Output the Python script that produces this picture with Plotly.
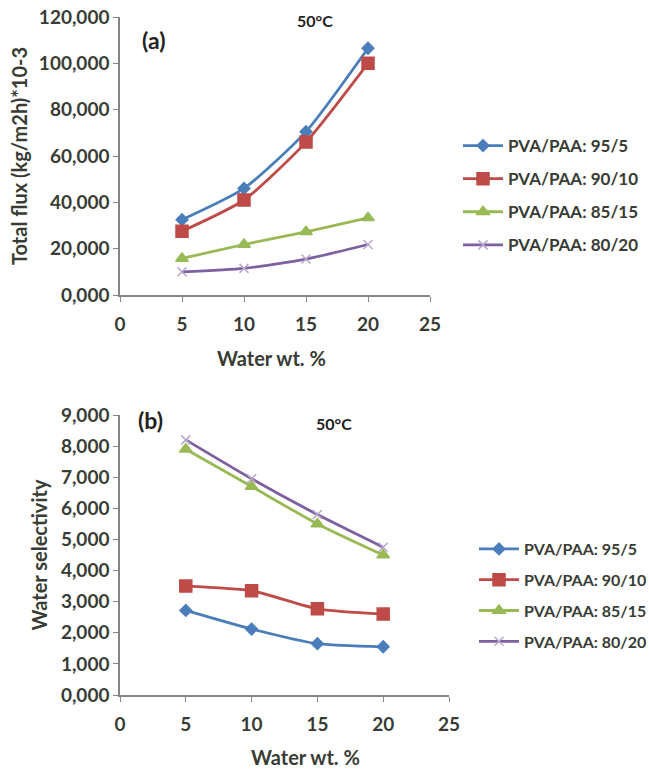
import plotly.graph_objects as go

water = [5, 10, 15, 20]
series_names = ["PVA/PAA: 95/5", "PVA/PAA: 90/10", "PVA/PAA: 85/15", "PVA/PAA: 80/20"]
flux = [
    [32500, 46000, 70500, 106500],
    [27500, 41000, 66000, 100000],
    [15800, 21800, 27300, 33300],
    [10000, 11500, 15500, 21800],
]
selectivity = [
    [2720, 2120, 1650, 1550],
    [3500, 3350, 2770, 2600],
    [7900, 6700, 5500, 4500],
    [8200, 6950, 5800, 4750],
]
colors = ["#4A7EBB", "#BE4B48", "#98B954", "#7D60A0"]
marker_colors = ["#4A7EBB", "#BE4B48", "#98B954", "#B8A8CC"]
symbols = ["diamond", "square", "triangle-up", "x-thin"]
msizes = [9, 12, 11, 9]

flux_ticks = [0, 20000, 40000, 60000, 80000, 100000, 120000]
sel_ticks = [0, 1000, 2000, 3000, 4000, 5000, 6000, 7000, 8000, 9000]
x_ticks = [0, 5, 10, 15, 20, 25]


def fmt(v):
    return f"{v // 1000},000"


fig = go.Figure()
for i, name in enumerate(series_names):
    fig.add_trace(go.Scatter(
        x=water, y=flux[i], name=name, mode="lines+markers",
        line=dict(color=colors[i], width=2.8, shape="spline", smoothing=0.6),
        marker=dict(symbol=symbols[i], size=msizes[i], color=marker_colors[i],
                    line=dict(color=marker_colors[i], width=1.5)),
        xaxis="x", yaxis="y", legend="legend", legendgroup=f"a{i}",
    ))
for i, name in enumerate(series_names):
    fig.add_trace(go.Scatter(
        x=water, y=selectivity[i], name=name, mode="lines+markers",
        line=dict(color=colors[i], width=2.8, shape="spline", smoothing=0.6),
        marker=dict(symbol=symbols[i], size=msizes[i], color=marker_colors[i],
                    line=dict(color=marker_colors[i], width=1.5)),
        xaxis="x2", yaxis="y2", legend="legend2", legendgroup=f"b{i}",
    ))

font_family = "Lato, 'Open Sans', sans-serif"
txt = "#383c34"
tick_font = dict(family=font_family, size=19, color=txt, weight="bold")
title_font = dict(family=font_family, size=20, color=txt, weight="bold")
legend_font = dict(family=font_family, size=17, color=txt, weight="bold")
legend2_font = dict(family=font_family, size=16, color=txt, weight="bold")
axis_common = dict(showgrid=False, zeroline=False, showline=True, linecolor="#858585",
                   linewidth=1.5, ticks="outside", ticklen=5, tickcolor="#858585",
                   tickfont=tick_font, title_font=title_font, automargin=False)

W, H = 649, 769
label_font = dict(family=font_family, size=23, color="#222", weight="bold")
temp_font = dict(family=font_family, size=16, color="#222", weight="bold")


def note(text, px, py, font):
    return dict(text=text, x=px / W, y=1 - py / H, xref="paper", yref="paper",
                xanchor="center", yanchor="middle", showarrow=False, font=font)


fig.update_layout(
    width=W, height=H, margin=dict(l=0, r=0, t=0, b=0, autoexpand=False),
    paper_bgcolor="white", plot_bgcolor="white",
    xaxis=dict(domain=[120 / W, 430 / W], range=[0, 25], tickvals=x_ticks, anchor="y",
               ticklabelstandoff=6, **axis_common),
    yaxis=dict(domain=[1 - 295 / H, 1 - 17 / H], range=[0, 120000], anchor="x",
               tickvals=flux_ticks, ticktext=[fmt(v) for v in flux_ticks],
               title=dict(text="Total flux (kg/m2h)*10-3", standoff=6), **axis_common),
    xaxis2=dict(domain=[120 / W, 449 / W], range=[0, 25], tickvals=x_ticks, anchor="y2",
                ticklabelstandoff=6, **axis_common),
    yaxis2=dict(domain=[1 - 695 / H, 1 - 415 / H], range=[0, 9000], anchor="x2",
                tickvals=sel_ticks, ticktext=[fmt(v) for v in sel_ticks],
                title=dict(text="Water selectivity", standoff=8), **axis_common),
    legend=dict(x=458 / W, y=1 - 128 / H, xanchor="left", yanchor="top",
                font=legend_font, tracegroupgap=8, itemwidth=40, bgcolor="rgba(0,0,0,0)"),
    legend2=dict(x=474 / W, y=1 - 532 / H, xanchor="left", yanchor="top",
                 font=legend2_font, tracegroupgap=7, itemwidth=40, bgcolor="rgba(0,0,0,0)"),
    annotations=[
        note("Water wt. %", 271, 358, title_font),
        note("Water wt. %", 305, 757, title_font),
        note("(a)", 153, 40, label_font),
        note("50°C", 315, 21, temp_font),
        note("(b)", 150, 420, label_font),
        note("50°C", 334, 424, temp_font),
    ],
)

fig.write_html("out.html")
